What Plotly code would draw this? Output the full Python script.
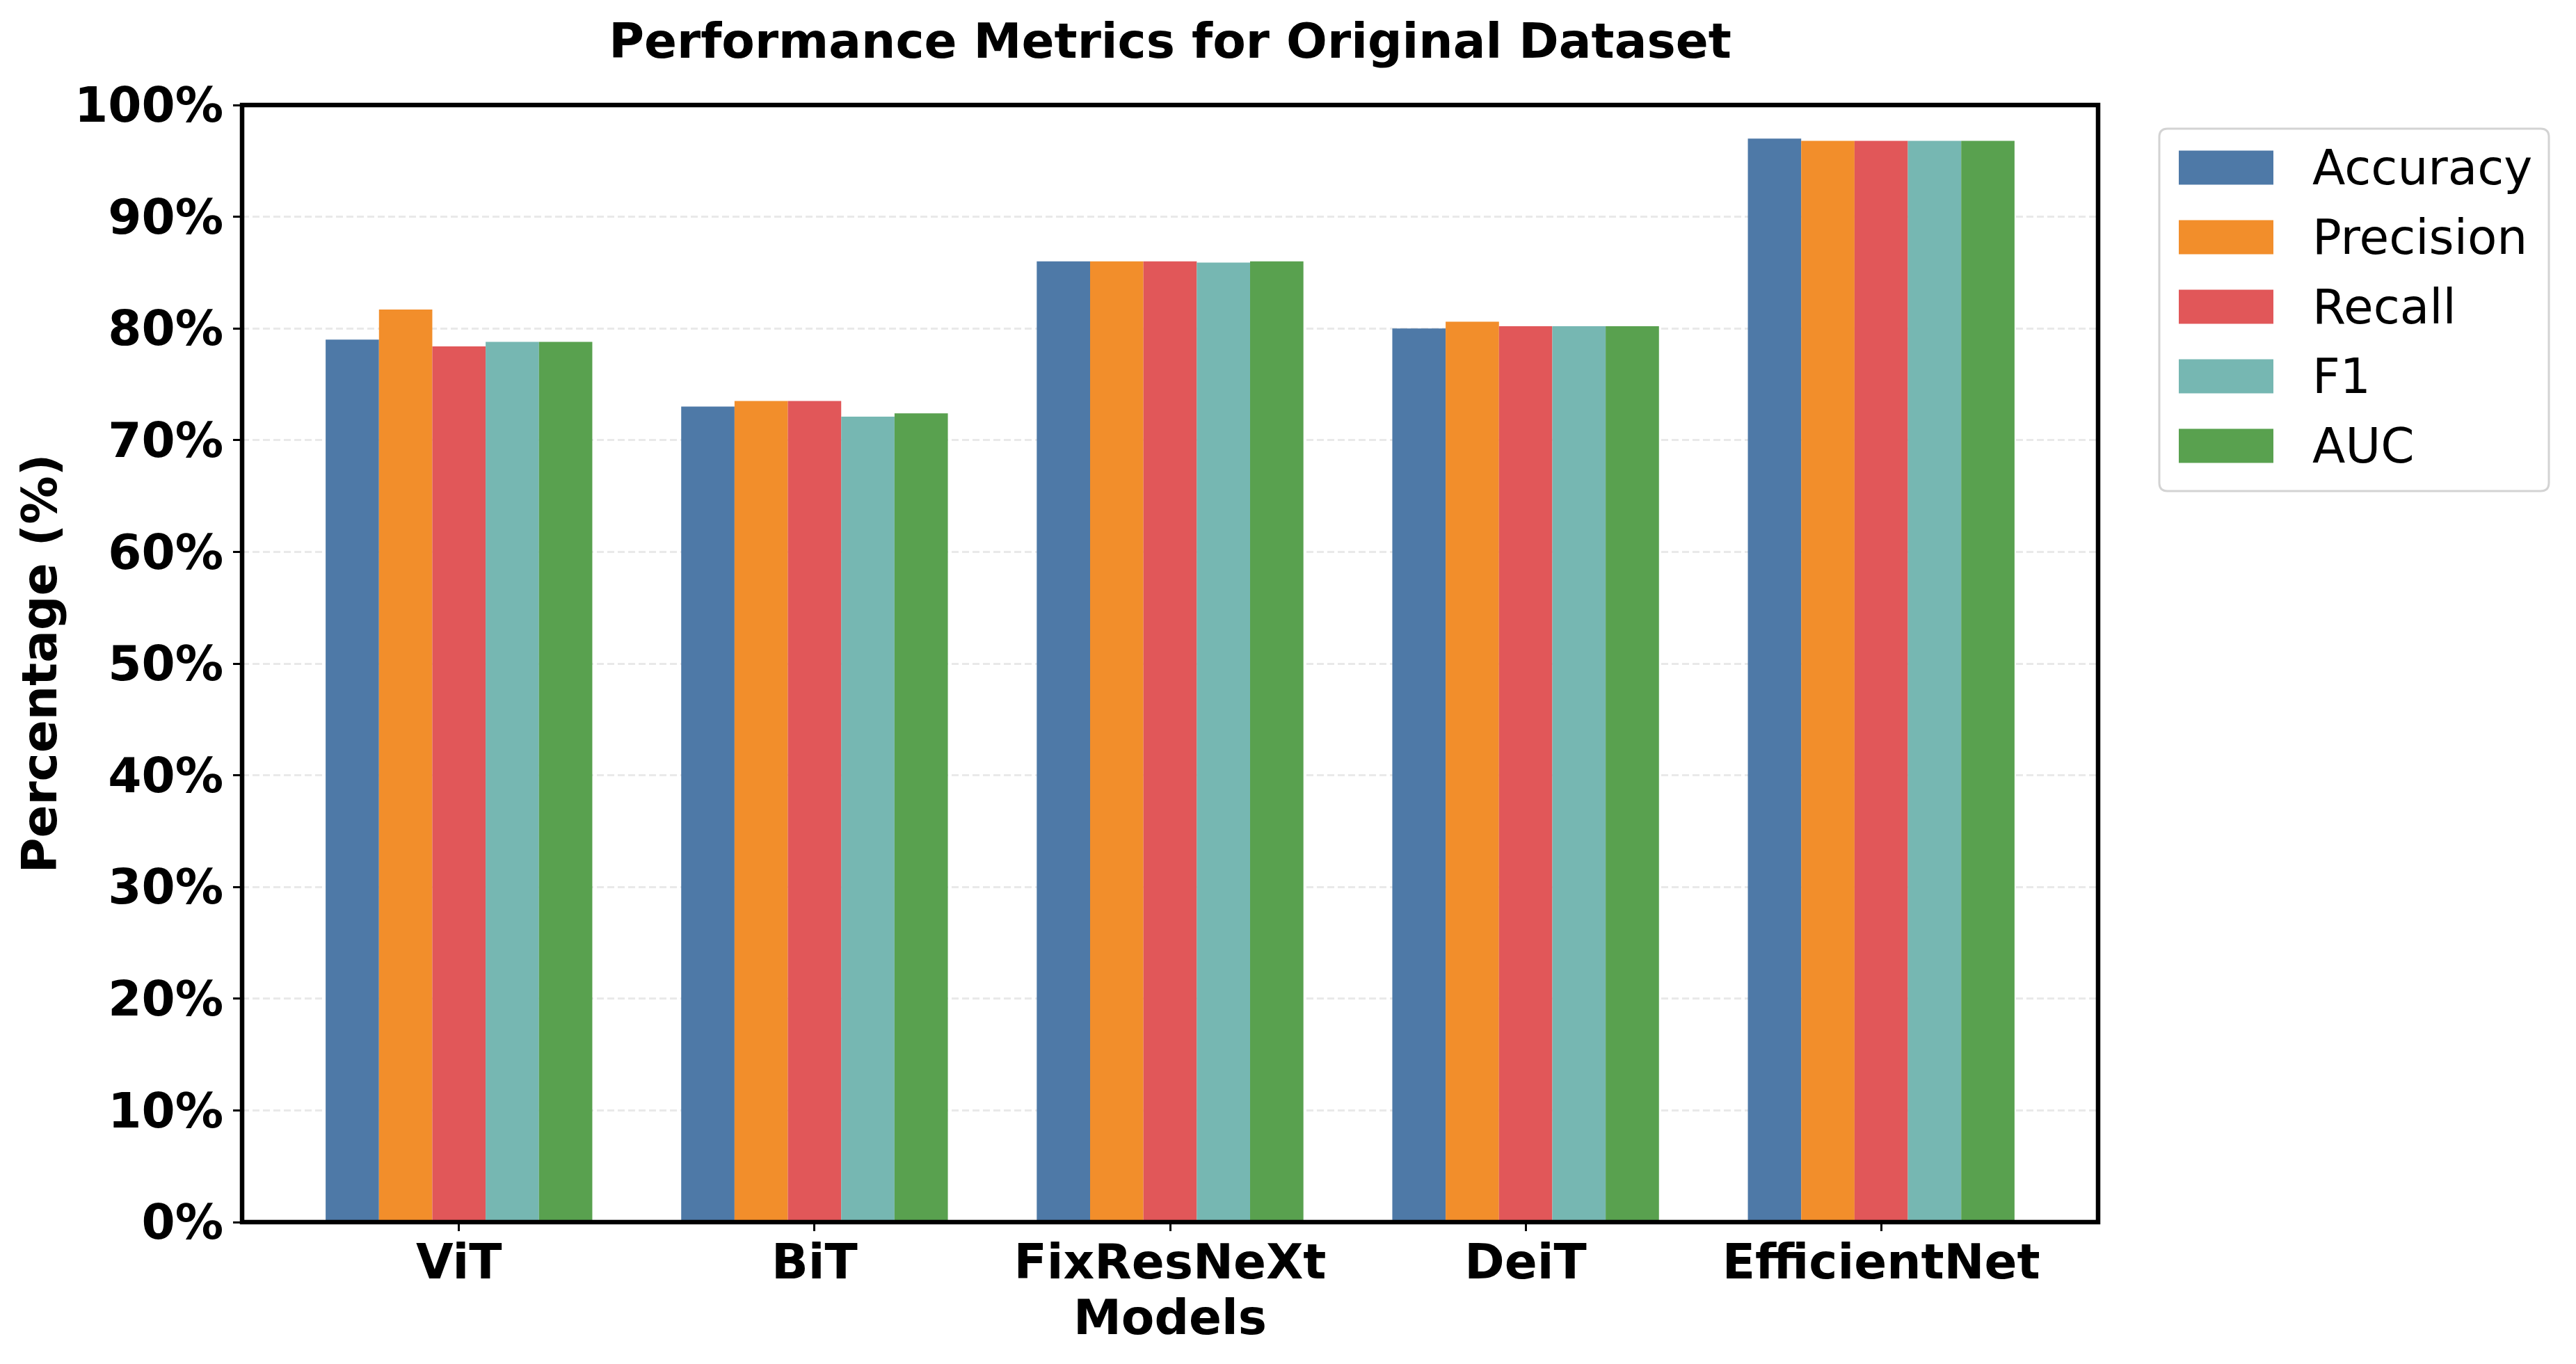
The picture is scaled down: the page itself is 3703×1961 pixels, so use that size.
import plotly.graph_objects as go

# ---------------- data ----------------
models = ["ViT", "BiT", "FixResNeXt", "DeiT", "EfficientNet"]
metrics = ["Accuracy", "Precision", "Recall", "F1", "AUC"]
accuracy = [79.0, 73.0, 86.0, 80.0, 97.0]
precision = [81.7, 73.5, 86.0, 80.6, 96.8]
recall = [78.4, 73.5, 86.0, 80.2, 96.8]
f1 = [78.8, 72.1, 85.9, 80.2, 96.8]
auc = [78.8, 72.4, 86.0, 80.2, 96.8]
y_tickvals = [0, 10, 20, 30, 40, 50, 60, 70, 80, 90, 100]
y_ticktext = ["0%", "10%", "20%", "30%", "40%", "50%", "60%", "70%", "80%", "90%", "100%"]

series = [accuracy, precision, recall, f1, auc]
colors = ["#4E79A7", "#F28E2B", "#E15759", "#76B7B2", "#59A14F"]

# ---------------- layout geometry (pixels, page coords) ----------------
W, H = 3703, 1961
OFF = 8  # page body margin offset
PL, PR, PT, PB = 348 - OFF, 3016 - OFF, 151 - OFF, 1757 - OFF
FONT = "DejaVu Sans"
FS = 69.3


def px_x(p):
    return (p - OFF - PL) / (PR - PL)


def px_y(p):
    return (PB - (p - OFF)) / (PB - PT)


fig = go.Figure()
for name, vals, col in zip(metrics, series, colors):
    fig.add_trace(go.Bar(
        x=models, y=vals, name=name,
        marker=dict(color=col, line=dict(width=0)),
        showlegend=False,
    ))

fig.update_layout(
    width=W, height=H,
    margin=dict(l=PL, r=W - PR, t=PT, b=H - PB, autoexpand=False),
    paper_bgcolor="white", plot_bgcolor="white",
    barmode="group", bargap=0.25, bargroupgap=0,
    font=dict(family=FONT, size=FS, color="black"),
    title=dict(
        text="<b>Performance Metrics for Original Dataset</b>",
        x=0.5, xref="paper", xanchor="center",
        y=1 - 26 / H, yref="container", yanchor="top",
        font=dict(family=FONT, size=FS, color="black"),
    ),
)

fig.update_xaxes(
    type="category", range=[-0.61, 4.61],
    showline=False, mirror=False,
    ticks="outside", ticklen=12, tickwidth=2.5, tickcolor="black",
    tickfont=dict(family=FONT, size=FS, color="black", weight="bold"),
    ticklabelstandoff=-15,
    showgrid=False, zeroline=False,
    title=dict(text="<b>Models</b>", standoff=3,
               font=dict(family=FONT, size=FS, color="black")),
    automargin=False,
)
fig.update_yaxes(
    range=[0, 100], tickvals=y_tickvals, ticktext=y_ticktext,
    showline=False, mirror=False,
    ticks="outside", ticklen=12, tickwidth=2.5, tickcolor="black",
    tickfont=dict(family=FONT, size=FS, color="black", weight="bold"),
    ticklabelstandoff=0,
    showgrid=True, gridcolor="rgba(200,200,200,0.4)", gridwidth=3,
    griddash="10px,5px", zeroline=False, layer="above traces",
    title=dict(text="<b>Percentage (%)</b>", standoff=2,
               font=dict(family=FONT, size=FS, color="black")),
    automargin=False,
)

# axes frame (spines centred on the plot edge, like matplotlib)
fig.add_shape(type="rect", xref="paper", yref="paper", x0=0, x1=1, y0=0, y1=1,
              line=dict(color="black", width=6.5), fillcolor="rgba(0,0,0,0)",
              layer="above")

# ---------------- custom legend (matplotlib-style) ----------------
LX0, LX1, LY0, LY1 = 3104, 3664, 185, 706
r = 12
rx = r / (PR - PL)
ry = r / (PB - PT)
x0, x1 = px_x(LX0), px_x(LX1)
y0, y1 = px_y(LY1), px_y(LY0)
path = (f"M {x0 + rx},{y1} L {x1 - rx},{y1} Q {x1},{y1} {x1},{y1 - ry} "
        f"L {x1},{y0 + ry} Q {x1},{y0} {x1 - rx},{y0} "
        f"L {x0 + rx},{y0} Q {x0},{y0} {x0},{y0 + ry} "
        f"L {x0},{y1 - ry} Q {x0},{y1} {x0 + rx},{y1} Z")
fig.add_shape(type="path", path=path, xref="paper", yref="paper",
              line=dict(color="#d3d3d3", width=3), fillcolor="white", layer="above")

row_centers = [241, 341, 441, 541, 641]
SW_X0, SW_X1, SW_H = 3132, 3268, 49
TEXT_X = 3322
for name, col, cy in zip(metrics, colors, row_centers):
    fig.add_shape(type="rect", xref="paper", yref="paper",
                  x0=px_x(SW_X0), x1=px_x(SW_X1),
                  y0=px_y(cy + SW_H / 2), y1=px_y(cy - SW_H / 2),
                  fillcolor=col, line=dict(width=0), layer="above")
    fig.add_annotation(text=name, xref="paper", yref="paper",
                       x=px_x(TEXT_X), y=px_y(cy), xanchor="left", yanchor="middle",
                       showarrow=False,
                       font=dict(family=FONT, size=FS, color="black"))

fig.write_html("out.html")
